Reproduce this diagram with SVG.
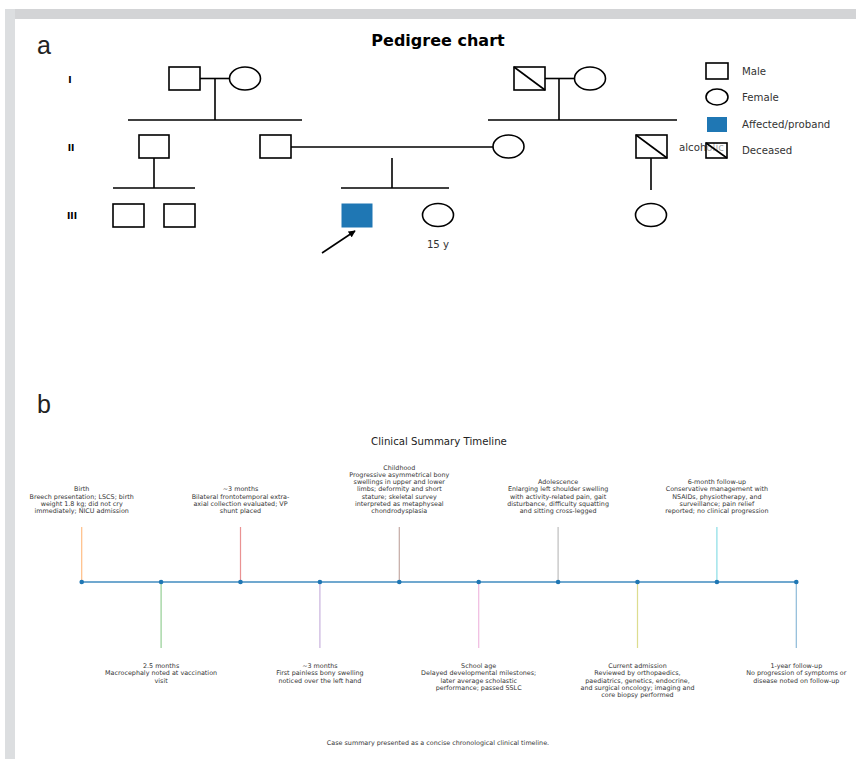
<svg xmlns="http://www.w3.org/2000/svg" width="856" height="759" viewBox="0 0 856 759">
<style>
.sym{fill:#fff;stroke:#000;stroke-width:1.6}
.ln{stroke:#000;stroke-width:1.6;fill:none}
.gen{font-family:"DejaVu Sans",sans-serif;font-weight:bold;font-size:9px;fill:#000}
.lg{font-family:"DejaVu Sans",sans-serif;font-size:10.2px;fill:#333}
.pl{font-family:"Liberation Sans",Arial,sans-serif;font-size:25px;fill:#222}
.tl{font-family:"DejaVu Sans",sans-serif;font-size:6.4px;fill:#333;text-anchor:middle}
.stem{stroke-width:1.2;opacity:0.5}
</style>
<defs>
<marker id="ah" viewBox="0 0 10 10" refX="9" refY="5" markerWidth="7" markerHeight="7" orient="auto" markerUnits="userSpaceOnUse">
<path d="M0,0 L10,5 L0,10 z" fill="#000"/>
</marker>
</defs>
<rect width="856" height="759" fill="#fff"/>
<rect x="5" y="9" width="851" height="10" fill="#d3d4d6"/>
<rect x="5" y="9" width="10" height="750" fill="#dcdee0"/>

<text class="pl" x="37" y="54">a</text>
<text class="pl" x="37" y="413">b</text>

<text x="438" y="46" font-family="DejaVu Sans, sans-serif" font-weight="bold" font-size="16" text-anchor="middle" fill="#000">Pedigree chart</text>

<g id="gen-labels">
<text class="gen" x="70" y="82.5" text-anchor="middle">I</text>
<text class="gen" x="71" y="150.5" text-anchor="middle">II</text>
<text class="gen" x="72" y="218.5" text-anchor="middle">III</text>
</g>

<g id="connectors">
<line class="ln" x1="200" y1="78.5" x2="229.5" y2="78.5"/>
<line class="ln" x1="215" y1="79" x2="215" y2="120"/>
<line class="ln" x1="128" y1="120" x2="302" y2="120"/>
<line class="ln" x1="545" y1="78.5" x2="574.5" y2="78.5"/>
<line class="ln" x1="559" y1="79" x2="559" y2="120"/>
<line class="ln" x1="488" y1="120" x2="677" y2="120"/>
<line class="ln" x1="291" y1="147" x2="493" y2="147"/>
<line class="ln" x1="154" y1="158" x2="154" y2="188"/>
<line class="ln" x1="113" y1="188" x2="195" y2="188"/>
<line class="ln" x1="392" y1="158" x2="392" y2="188"/>
<line class="ln" x1="341" y1="188" x2="449" y2="188"/>
<line class="ln" x1="651" y1="158" x2="651" y2="190"/>
<line class="ln" x1="322" y1="253" x2="355" y2="231" marker-end="url(#ah)"/>
</g>

<g id="I-1"><rect class="sym" x="169" y="67" width="31" height="23"/></g>
<g id="I-2"><ellipse class="sym" cx="245" cy="78.5" rx="15.5" ry="11.5"/></g>
<g id="I-3"><rect class="sym" x="514" y="67" width="31" height="23"/><line class="ln" x1="514" y1="67" x2="545" y2="90"/></g>
<g id="I-4"><ellipse class="sym" cx="590" cy="78.5" rx="15.5" ry="11.5"/></g>

<g id="II-1"><rect class="sym" x="139" y="135" width="30" height="23"/></g>
<g id="II-2"><rect class="sym" x="260" y="135" width="31" height="23"/></g>
<g id="II-3"><ellipse class="sym" cx="508.5" cy="146.5" rx="15.5" ry="11.5"/></g>
<g id="II-4"><rect class="sym" x="636" y="135" width="31" height="23"/><line class="ln" x1="636" y1="135" x2="667" y2="158"/>
<text class="lg" x="679" y="150.5">alcoholic</text></g>

<g id="III-1"><rect class="sym" x="113" y="204" width="31" height="23"/></g>
<g id="III-2"><rect class="sym" x="164" y="204" width="31" height="23"/></g>
<g id="III-3"><rect x="342" y="204" width="30" height="23" fill="#1f77b4" stroke="#1f77b4" stroke-width="1"/></g>
<g id="III-4"><ellipse class="sym" cx="438" cy="215" rx="15.5" ry="11.5"/><text class="lg" x="438" y="248" text-anchor="middle">15 y</text></g>
<g id="III-5"><ellipse class="sym" cx="651" cy="215" rx="15.5" ry="11.5"/></g>

<g id="legend">
<rect class="sym" x="706" y="63" width="22" height="16"/>
<text class="lg" x="742" y="74.5">Male</text>
<ellipse class="sym" cx="717" cy="97" rx="11" ry="8"/>
<text class="lg" x="742" y="100.5">Female</text>
<rect x="707" y="117" width="20" height="15" fill="#1f77b4"/>
<text class="lg" x="742" y="127.5">Affected/proband</text>
<rect x="706" y="143" width="21" height="15" fill="#fff" fill-opacity="0.55" stroke="#000" stroke-width="1.6"/>
<line class="ln" x1="706" y1="143" x2="727" y2="158"/>
<text class="lg" x="742" y="153.5">Deceased</text>
</g>

<text x="439" y="445" font-family="DejaVu Sans, sans-serif" font-size="10.2" text-anchor="middle" fill="#222">Clinical Summary Timeline</text>

<g id="timeline-stems">
<line class="stem" x1="81.7" y1="527" x2="81.7" y2="582" stroke="#ff7f0e"/>
<line class="stem" x1="161.1" y1="582" x2="161.1" y2="648" stroke="#2ca02c"/>
<line class="stem" x1="240.5" y1="527" x2="240.5" y2="582" stroke="#d62728"/>
<line class="stem" x1="319.9" y1="582" x2="319.9" y2="648" stroke="#9467bd"/>
<line class="stem" x1="399.3" y1="527" x2="399.3" y2="582" stroke="#8c564b"/>
<line class="stem" x1="478.7" y1="582" x2="478.7" y2="648" stroke="#e377c2"/>
<line class="stem" x1="558.1" y1="527" x2="558.1" y2="582" stroke="#7f7f7f"/>
<line class="stem" x1="637.5" y1="582" x2="637.5" y2="648" stroke="#bcbd22"/>
<line class="stem" x1="716.9" y1="527" x2="716.9" y2="582" stroke="#17becf"/>
<line class="stem" x1="796.3" y1="582" x2="796.3" y2="648" stroke="#1f77b4"/>
</g>
<g id="timeline-axis">
<line x1="81.7" y1="582" x2="796.3" y2="582" stroke="#1f77b4" stroke-width="1.6" stroke-opacity="0.85"/>
<g fill="#1f77b4">
<circle cx="81.7" cy="582" r="2.3"/><circle cx="161.1" cy="582" r="2.3"/><circle cx="240.5" cy="582" r="2.3"/><circle cx="319.9" cy="582" r="2.3"/><circle cx="399.3" cy="582" r="2.3"/><circle cx="478.7" cy="582" r="2.3"/><circle cx="558.1" cy="582" r="2.3"/><circle cx="637.5" cy="582" r="2.3"/><circle cx="716.9" cy="582" r="2.3"/><circle cx="796.3" cy="582" r="2.3"/>
</g>
</g>

<g id="timeline-events" opacity="0.99">
<g id="ev-birth"><text class="tl" x="81.7" y="491.4"><tspan x="81.7">Birth</tspan><tspan x="81.7" dy="7.2">Breech presentation; LSCS; birth</tspan><tspan x="81.7" dy="7.2">weight 1.8 kg; did not cry</tspan><tspan x="81.7" dy="7.2">immediately; NICU admission</tspan></text></g>
<g id="ev-2-5m"><text class="tl" x="161.1" y="668.2"><tspan x="161.1">2.5 months</tspan><tspan x="161.1" dy="7.2">Macrocephaly noted at vaccination</tspan><tspan x="161.1" dy="7.2">visit</tspan></text></g>
<g id="ev-3m-a"><text class="tl" x="240.5" y="491.4"><tspan x="240.5">~3 months</tspan><tspan x="240.5" dy="7.2">Bilateral frontotemporal extra-</tspan><tspan x="240.5" dy="7.2">axial collection evaluated; VP</tspan><tspan x="240.5" dy="7.2">shunt placed</tspan></text></g>
<g id="ev-3m-b"><text class="tl" x="319.9" y="668.2"><tspan x="319.9">~3 months</tspan><tspan x="319.9" dy="7.2">First painless bony swelling</tspan><tspan x="319.9" dy="7.2">noticed over the left hand</tspan></text></g>
<g id="ev-childhood"><text class="tl" x="399.3" y="469.8"><tspan x="399.3">Childhood</tspan><tspan x="399.3" dy="7.2">Progressive asymmetrical bony</tspan><tspan x="399.3" dy="7.2">swellings in upper and lower</tspan><tspan x="399.3" dy="7.2">limbs; deformity and short</tspan><tspan x="399.3" dy="7.2">stature; skeletal survey</tspan><tspan x="399.3" dy="7.2">interpreted as metaphyseal</tspan><tspan x="399.3" dy="7.2">chondrodysplasia</tspan></text></g>
<g id="ev-school"><text class="tl" x="478.7" y="668.2"><tspan x="478.7">School age</tspan><tspan x="478.7" dy="7.2">Delayed developmental milestones;</tspan><tspan x="478.7" dy="7.2">later average scholastic</tspan><tspan x="478.7" dy="7.2">performance; passed SSLC</tspan></text></g>
<g id="ev-adolescence"><text class="tl" x="558.1" y="484.2"><tspan x="558.1">Adolescence</tspan><tspan x="558.1" dy="7.2">Enlarging left shoulder swelling</tspan><tspan x="558.1" dy="7.2">with activity-related pain, gait</tspan><tspan x="558.1" dy="7.2">disturbance, difficulty squatting</tspan><tspan x="558.1" dy="7.2">and sitting cross-legged</tspan></text></g>
<g id="ev-admission"><text class="tl" x="637.5" y="668.2"><tspan x="637.5">Current admission</tspan><tspan x="637.5" dy="7.2">Reviewed by orthopaedics,</tspan><tspan x="637.5" dy="7.2">paediatrics, genetics, endocrine,</tspan><tspan x="637.5" dy="7.2">and surgical oncology; imaging and</tspan><tspan x="637.5" dy="7.2">core biopsy performed</tspan></text></g>
<g id="ev-6m"><text class="tl" x="716.9" y="484.2"><tspan x="716.9">6-month follow-up</tspan><tspan x="716.9" dy="7.2">Conservative management with</tspan><tspan x="716.9" dy="7.2">NSAIDs, physiotherapy, and</tspan><tspan x="716.9" dy="7.2">surveillance; pain relief</tspan><tspan x="716.9" dy="7.2">reported; no clinical progression</tspan></text></g>
<g id="ev-1y"><text class="tl" x="796.3" y="668.2"><tspan x="796.3">1-year follow-up</tspan><tspan x="796.3" dy="7.2">No progression of symptoms or</tspan><tspan x="796.3" dy="7.2">disease noted on follow-up</tspan></text></g>
<text class="tl" x="438" y="745">Case summary presented as a concise chronological clinical timeline.</text>
</g>
</svg>
